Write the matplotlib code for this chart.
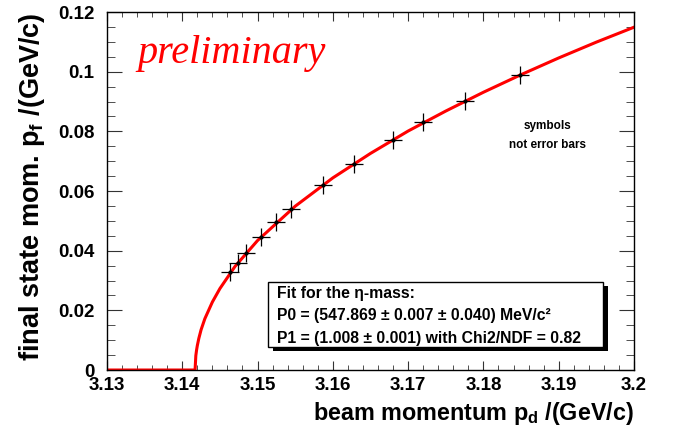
import matplotlib
matplotlib.use("Agg")
import matplotlib.pyplot as plt
from matplotlib.patches import Rectangle
from matplotlib.ticker import MultipleLocator, FuncFormatter

plt.rcParams['font.family'] = ['Liberation Sans', 'DejaVu Sans']
plt.rcParams['font.weight'] = 'bold'
plt.rcParams['axes.labelweight'] = 'bold'
plt.rcParams['mathtext.fontset'] = 'custom'
plt.rcParams['mathtext.rm'] = 'Liberation Sans:bold'
plt.rcParams['mathtext.bf'] = 'Liberation Sans:bold'
plt.rcParams['mathtext.it'] = 'Liberation Sans:bold'

# measured points (beam momentum, final state momentum)
p_beam = [3.1464, 3.1474, 3.1484, 3.1505, 3.1524, 3.1545,
          3.1587, 3.1628, 3.1680, 3.1720, 3.1776, 3.1849]
p_final = [0.0330, 0.0360, 0.0393, 0.0445, 0.0495, 0.0539,
           0.0621, 0.0690, 0.0771, 0.0830, 0.0902, 0.0989]

# fit curve
fit_x = [3.13, 3.1417, 3.1418, 3.1419, 3.142, 3.1422, 3.1425, 3.143,
         3.144, 3.145, 3.147, 3.15, 3.155, 3.16, 3.165, 3.17, 3.175,
         3.18, 3.185, 3.19, 3.195, 3.2]
fit_y = [0.0, 0.0, 0.0048, 0.0067, 0.0082, 0.0106, 0.0135, 0.0172,
         0.0228, 0.0273, 0.0347, 0.0434, 0.0549, 0.0644, 0.0726, 0.0801,
         0.0868, 0.0931, 0.0990, 0.1046, 0.1099, 0.1149]

fit_lines = ["Fit for the \u03b7-mass:",
             "P0 = (547.869 \u00b1 0.007 \u00b1 0.040) MeV/c\u00b2",
             "P1 = (1.008 \u00b1 0.001) with Chi2/NDF = 0.82"]

fig = plt.figure(figsize=(6.75, 4.32), dpi=100)
ax = fig.add_axes([0.1585, 0.1435, 0.7807, 0.8287])

ax.plot(fit_x, fit_y, color='#ff0000', lw=2.2, zorder=2)
ax.plot(p_beam, p_final, ls='none', marker='+', ms=13, mew=0.9, color='black', zorder=3)
ax.plot(p_beam, p_final, ls='none', marker='o', ms=2, color='black', zorder=3)

ax.set_xlim(3.13, 3.2)
ax.set_ylim(0, 0.12)
ax.xaxis.set_major_locator(MultipleLocator(0.01))
ax.xaxis.set_minor_locator(MultipleLocator(0.002))
ax.yaxis.set_major_locator(MultipleLocator(0.02))
ax.yaxis.set_minor_locator(MultipleLocator(0.005))
ax.xaxis.set_major_formatter(FuncFormatter(lambda v, p: ('%.2f' % v).rstrip('0')))
ax.yaxis.set_major_formatter(FuncFormatter(lambda v, p: '0' if abs(v) < 1e-9 else ('%.2f' % v).rstrip('0')))

ax.tick_params(axis='both', which='both', direction='in', top=True, right=True,
               labelsize=13.5, color='#333333')
ax.tick_params(axis='x', which='major', length=6.5, pad=5)
ax.tick_params(axis='x', which='minor', length=3.5)
ax.tick_params(axis='y', which='major', length=11, pad=9)
ax.tick_params(axis='y', which='minor', length=5.5)
for s in ax.spines.values():
    s.set_linewidth(1.0)

ax.set_xlabel(r'beam momentum p$_{\mathbf{d}}$ /(GeV/c)', fontsize=16.8, loc='right', labelpad=4)
ax.set_ylabel(r'final state mom. p$_{\mathbf{f}}$ /(GeV/c)', fontsize=19.5, loc='top', labelpad=8)

ax.text(0.057, 0.885, 'preliminary', transform=ax.transAxes, color='#ff0000',
        family='Liberation Serif', style='italic', weight='normal', fontsize=29,
        ha='left', va='center')

ax.text(0.835, 0.655, 'symbols\nnot error bars', transform=ax.transAxes,
        fontsize=8.5, ha='center', va='center', linespacing=1.8)

# fit result box with shadow
bx0, by0, bw, bh = 0.3055, 0.064, 0.6355, 0.182
ax.add_patch(Rectangle((bx0 + 0.009, by0 - 0.012), bw, bh, transform=ax.transAxes,
                       facecolor='black', edgecolor='none', zorder=4))
ax.add_patch(Rectangle((bx0, by0), bw, bh, transform=ax.transAxes,
                       facecolor='white', edgecolor='black', lw=1.0, zorder=5))
for i, line in enumerate(fit_lines):
    ax.text(bx0 + 0.017, 0.215 - i * 0.063, line, transform=ax.transAxes,
            fontsize=11.3, ha='left', va='center', zorder=6)

fig.savefig('out.png', dpi=100)
